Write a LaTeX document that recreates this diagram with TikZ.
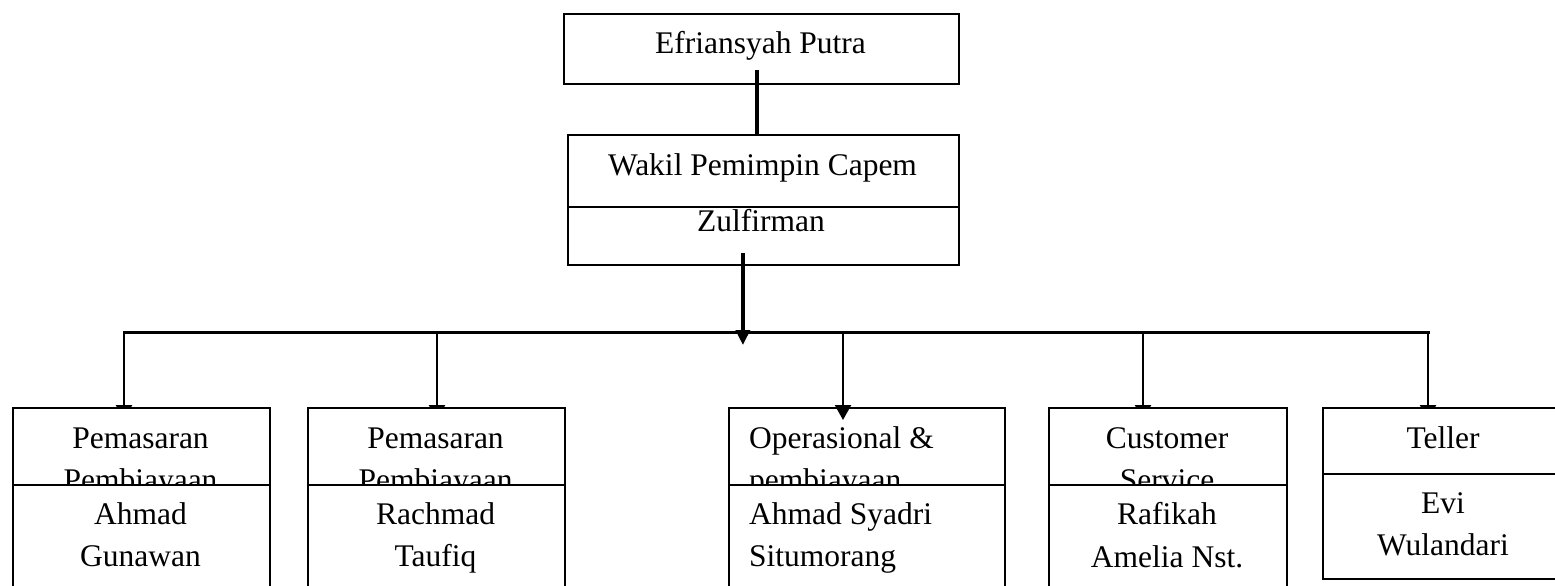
\documentclass[tikz,border=0pt]{standalone}
\usepackage{fontspec}
\setmainfont{Liberation Serif}
\usetikzlibrary{arrows.meta,calc,backgrounds}
\begin{document}
\begin{tikzpicture}[x=1pt,y=-1pt,
  box/.style={draw, line width=1.8pt, fill=white, inner sep=0pt, anchor=north west},
  lbl/.style={anchor=base, inner sep=0pt, font=\fontsize{31.5}{42.5}\selectfont},
  lbll/.style={lbl, anchor=base west},
  thickline/.style={line width=3.5pt},
  busline/.style={line width=3pt, line cap=rect},
  dropline/.style={line width=2.3pt, -{Triangle[width=16pt,length=15pt]}},
  mainarrow/.style={line width=3.5pt, -{Triangle[width=14pt,length=15pt]}}]
\useasboundingbox (0,0) rectangle (1555,586);
\clip (0,0) rectangle (1555,586);

% top
\node[box, minimum width=395pt, minimum height=70pt] (top) at (563,13) {};
\node[lbl] (topt) at (760.5,54) {Efriansyah Putra};

\node[box, minimum width=391pt, minimum height=72pt] (wk1) at (567,134) {};
\node[lbl] (wk1t) at (762.5,175) {Wakil Pemimpin Capem};
\node[box, minimum width=391pt, minimum height=58pt] (wk2) at (567,206) {};
\node[lbl] (wk2t) at (761,231.5) {Zulfirman};

% box 1
\node[box, minimum width=257pt, minimum height=77pt] (b1u) at (12,407) {};
\node[lbl] (b1a) at (140.5,448) {Pemasaran};
\node[lbl] (b1b) at (140.5,490) {Pembiayaan};
\node[box, minimum width=257pt, minimum height=130pt] (b1l) at (12,484) {};
\node[lbl] (b1c) at (140.5,524) {Ahmad};
\node[lbl] (b1d) at (140.5,566.5) {Gunawan};

% box 2
\node[box, minimum width=257pt, minimum height=77pt] (b2u) at (307,407) {};
\node[lbl] (b2a) at (435.5,448) {Pemasaran};
\node[lbl] (b2b) at (435.5,490) {Pembiayaan};
\node[box, minimum width=257pt, minimum height=130pt] (b2l) at (307,484) {};
\node[lbl] (b2c) at (435.5,524) {Rachmad};
\node[lbl] (b2d) at (435.5,566.5) {Taufiq};

% box 3
\node[box, minimum width=276pt, minimum height=77pt] (b3u) at (728,407) {};
\node[lbll] (b3a) at (749,448) {Operasional \&};
\node[lbll] (b3b) at (749,490) {pembiayaan};
\node[box, minimum width=276pt, minimum height=130pt] (b3l) at (728,484) {};
\node[lbll] (b3c) at (749,524) {Ahmad Syadri};
\node[lbll] (b3d) at (749,566) {Situmorang};

% box 4
\node[box, minimum width=238pt, minimum height=77pt] (b4u) at (1048,407) {};
\node[lbl] (b4a) at (1167,448) {Customer};
\node[lbl] (b4b) at (1167,490) {Service};
\node[box, minimum width=238pt, minimum height=130pt] (b4l) at (1048,484) {};
\node[lbl] (b4c) at (1167,524) {Rafikah};
\node[lbl] (b4d) at (1167,567) {Amelia Nst.};

% box 5
\node[box, minimum width=243pt, minimum height=66pt] (b5u) at (1322,407) {};
\node[lbl] (b5a) at (1443,448) {Teller};
\node[box, minimum width=243pt, minimum height=105pt] (b5l) at (1322,473) {};
\node[lbl] (b5c) at (1443,513) {Evi};
\node[lbl] (b5d) at (1443,555) {Wulandari};

% connectors
\coordinate (c1) at ($(top.south)+(-4.5,-15)$);
\draw[thickline] (c1) -- (c1 |- wk1.north);

\coordinate (d1) at (124,332);
\coordinate (d2) at (437,332);
\coordinate (d3) at (843,332);
\coordinate (d4) at (1143,332);
\coordinate (d5) at (1428,332);

\draw[busline] (d1) -- (d5);

\coordinate (c2) at ($(wk2.south)+(-20.5,-13)$);
\draw[mainarrow] (c2) -- ($(c2 |- d1)+(0,13)$);

\begin{pgfonlayer}{background}
\draw[dropline] (d1) -- ($(d1 |- b1u.north)+(0,13)$);
\draw[dropline] (d2) -- ($(d2 |- b2u.north)+(0,13)$);
\draw[dropline] (d4) -- ($(d4 |- b4u.north)+(0,13)$);
\draw[dropline] (d5) -- ($(d5 |- b5u.north)+(0,13)$);
\end{pgfonlayer}
\draw[dropline] (d3) -- ($(d3 |- b3u.north)+(0,13)$);
\end{tikzpicture}
\end{document}
